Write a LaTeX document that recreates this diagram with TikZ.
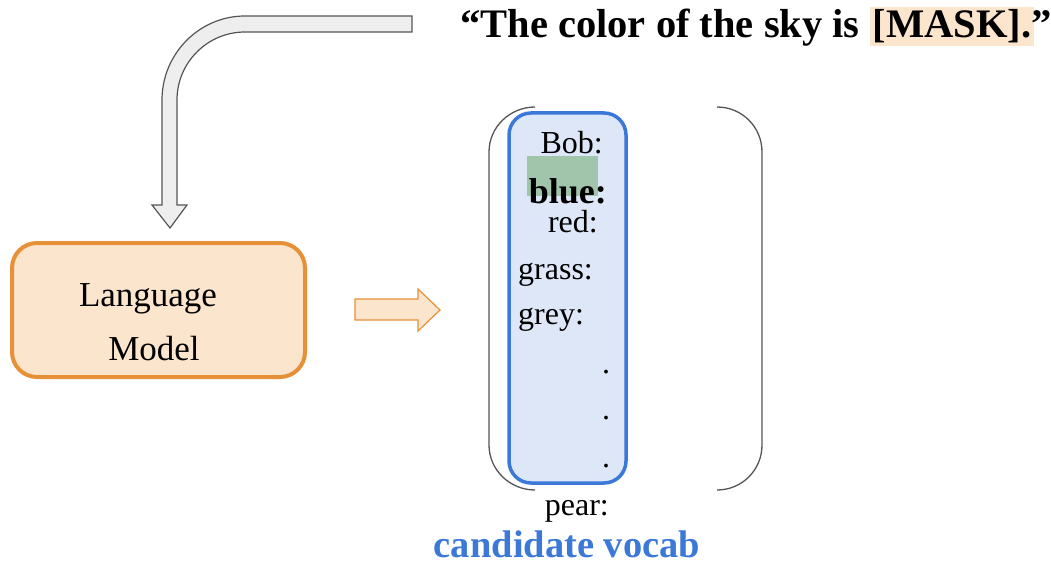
\documentclass[tikz,border=0pt]{standalone}
\usepackage{fontspec}
\setmainfont{Liberation Serif}
\usepackage{xcolor}
\definecolor{lmorange}{RGB}{230,145,56}
\definecolor{lmfill}{RGB}{252,229,205}
\definecolor{vblue}{RGB}{60,120,216}
\definecolor{vfill}{RGB}{221,231,248}
\definecolor{vgreen}{RGB}{160,197,171}
\definecolor{arrgray}{RGB}{85,85,85}
\definecolor{arrfill}{RGB}{238,238,238}
\begin{document}
\begin{tikzpicture}[x=1pt,y=-1pt,
  vtext/.style={inner sep=0pt,font=\fontsize{32}{38}\selectfont},
  lmtext/.style={inner sep=0pt,font=\fontsize{35}{42}\selectfont,anchor=base},
  bigtitle/.style={inner sep=0pt,font=\fontsize{40.5}{48}\selectfont\bfseries,anchor=base},
  paren/.style={draw=arrgray,line width=1.3pt},
]
\useasboundingbox (0,0) rectangle (1051,564);
% title
\node[bigtitle] (title) at (756,38) {“The color of the sky is {\setlength\fboxsep{3pt}\colorbox{lmfill}{[MASK].}}\kern-3pt”};
% gray bent arrow
\draw[draw=arrgray,fill=arrfill,line width=1.2pt,line join=miter]
  (412,16) -- (245,16) .. controls (199,16) and (162,54) .. (162,100)
  -- (162,205) -- (152,205) -- (170,228) -- (187,205) -- (177,205)
  -- (177,100) .. controls (177,62.5) and (207.5,32) .. (245,32)
  -- (412,32) -- cycle;
% language model box
\node[draw=lmorange,fill=lmfill,line width=4pt,rounded corners=25pt,
  minimum width=293pt,minimum height=134pt,inner sep=0pt] (lm) at (158.5,310) {};
\node[lmtext] (lang) at (148,306) {Language};
\node[lmtext] (model) at (154,360) {Model};
% orange arrow
\draw[draw=lmorange,fill=lmfill,line width=1.2pt]
  (355,299) -- (418,299) -- (418,289) -- (440,310) -- (418,331) -- (418,320) -- (355,320) -- cycle;
% parentheses
\draw[paren] (535,107) .. controls (510,107) and (489,127) .. (489,152) -- (489,445) .. controls (489,470) and (510,490) .. (535,490);
\draw[paren] (717,107) .. controls (742,107) and (762,127) .. (762,152) -- (762,445) .. controls (762,470) and (742,490) .. (717,490);
% blue box
\node[draw=vblue,fill=vfill,line width=3.5pt,rounded corners=22pt,
  minimum width=117pt,minimum height=370pt,inner sep=0pt] (vbox) at (567.5,298) {};
\fill[vgreen] (527,156) rectangle (598,196);
\node[vtext,anchor=base east] (bob) at (603,154) {Bob:};
\node[vtext,anchor=base east,font=\fontsize{36}{42}\selectfont\bfseries,text depth=0pt] (blue) at (607,203) {blue:};
\node[vtext,anchor=base east] (red) at (598,232) {red:};
\node[vtext,anchor=base west] (grass) at (518,279) {grass:};
\node[vtext,anchor=base west] (grey) at (518,324) {grey:};
\node[vtext,anchor=base] (d1) at (606,373) {.};
\node[vtext,anchor=base] (d2) at (606,419) {.};
\node[vtext,anchor=base] (d3) at (606,467) {.};
\node[vtext,anchor=base east] (pear) at (609,515) {pear:};
\node[inner sep=0pt,font=\fontsize{38.5}{44}\selectfont\bfseries,text=vblue,anchor=base,text depth=0pt] (cand) at (567,557) {candidate vocab};
\end{tikzpicture}
\end{document}
